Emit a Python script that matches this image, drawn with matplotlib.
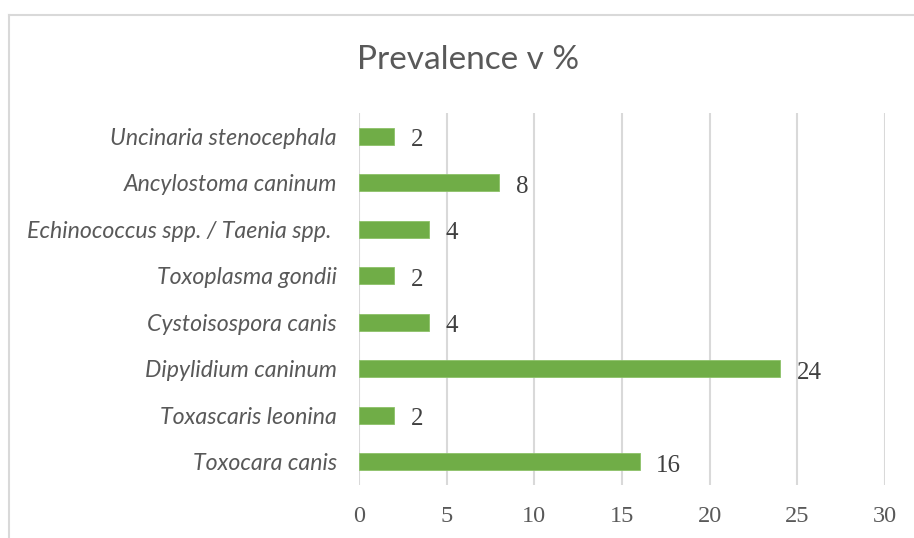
import matplotlib
matplotlib.use("Agg")
import matplotlib.pyplot as plt
from matplotlib.lines import Line2D

categories = ["Uncinaria stenocephala", "Ancylostoma caninum", "Echinococcus spp. / Taenia spp. ",
              "Toxoplasma gondii", "Cystoisospora canis", "Dipylidium caninum",
              "Toxascaris leonina", "Toxocara canis"]
values = [2, 8, 4, 2, 4, 24, 2, 16]
xticks = [0, 5, 10, 15, 20, 25, 30]
title = "Prevalence v %"

W, H = 914, 538
fig = plt.figure(figsize=(W / 100, H / 100), dpi=100)
ax = fig.add_axes([359 / W, 1 - 485 / H, (885 - 359) / W, (485 - 113) / H])

n = len(categories)
ypos = list(range(n))[::-1]
ax.barh(ypos, values, height=0.36, color="#70AD47", edgecolor="#8CC168", linewidth=0.6, zorder=3)
ax.set_ylim(-0.5, n - 0.5)
ax.set_xlim(0, 30)
ax.set_xticks(xticks)
ax.set_xticklabels([str(t) for t in xticks], family="Liberation Serif", fontsize=17.5, color="#595959")
ax.set_yticks(ypos)
ax.set_yticklabels(categories, family="Lato", style="italic", fontsize=16.7, color="#595959")
ax.tick_params(axis="both", length=0)
ax.tick_params(axis="x", pad=15)
ax.tick_params(axis="y", pad=16)
for s in ax.spines.values():
    s.set_visible(False)
ax.grid(axis="x", color="#D9D9D9", linewidth=1.5, zorder=0)
ax.set_axisbelow(True)

for y, v in zip(ypos, values):
    ax.annotate(str(v), xy=(v, y), xytext=(12, -3), textcoords="offset points",
                ha="left", va="center", family="Liberation Serif", fontsize=18, color="#404040")

fig.text(468 / W, 1 - 69 / H, title, ha="center", va="baseline", family="Lato",
         fontsize=24, color="#595959")

# chart frame (partially cropped)
fig.add_artist(Line2D([8.5 / W, 8.5 / W], [1 - 14.5 / H, -0.05], transform=fig.transFigure,
                      color="#D9D9D9", linewidth=1.5))
fig.add_artist(Line2D([8.5 / W, 1.05], [1 - 14.5 / H, 1 - 14.5 / H], transform=fig.transFigure,
                      color="#D9D9D9", linewidth=1.5))

fig.savefig("out.png", dpi=100, facecolor="white")
